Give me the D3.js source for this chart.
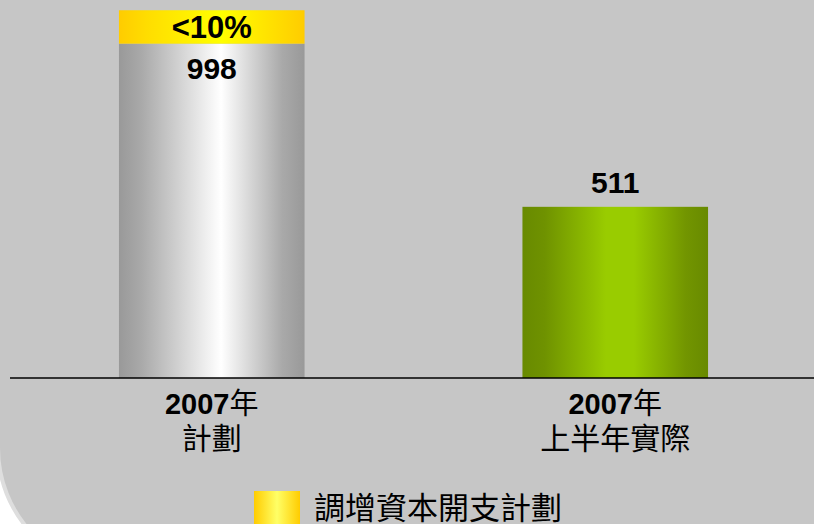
<!DOCTYPE html>
<html lang="zh-Hant">

<head>
  <meta charset="UTF-8">
  <script src="https://d3js.org/d3.v7.min.js"></script>
  <style>
    html, body {
      margin: 0;
      padding: 0;
      background: #ffffff;
      overflow: hidden;
    }

    svg {
      display: block;
    }

    .num {
      font-family: "Liberation Sans", Arial, sans-serif;
      font-weight: bold;
      fill: #000;
    }

    .cjk {
      font-family: "Liberation Sans", "Noto Sans CJK TC", sans-serif;
      fill: #000;
    }
  </style>
</head>

<body>
  <div id="chart"></div>

  <script>
    // data
    const yearLabels = ["2007", "2007"];
    const catLabels = ["計劃", "上半年實際"];
    const values = [998, 511];
    const extraShare = [0.1, 0];       // top-up on the plan bar
    const extraLabel = "<10%";
    const legendLabel = "調增資本開支計劃";

    const W = 814, H = 524;
    const baseY = 378;

    const svg = d3.select('#chart').append('svg')
      .attr('width', W).attr('height', H);

    const defs = svg.append('defs');
    function hGrad(id, stops) {
      const g = defs.append('linearGradient').attr('id', id)
        .attr('x1', '0%').attr('x2', '100%').attr('y1', '0%').attr('y2', '0%');
      stops.forEach(s => g.append('stop').attr('offset', s[0]).attr('stop-color', s[1]));
    }
    hGrad('gGray', [['0%', '#999999'], ['12%', '#a9a9a9'], ['55%', '#ffffff'], ['88%', '#a9a9a9'], ['100%', '#999999']]);
    hGrad('gGreen', [['0%', '#688a00'], ['12%', '#6f9200'], ['45%', '#99cc00'], ['60%', '#99cc00'], ['88%', '#729500'], ['100%', '#688a00']]);
    hGrad('gYellow', [['0%', '#ffcc00'], ['15%', '#ffdd00'], ['55%', '#ffff00'], ['85%', '#ffdd00'], ['100%', '#ffcc00']]);
    hGrad('gLegend', [['0%', '#ffcc00'], ['50%', '#ffff66'], ['100%', '#ffcc00']]);

    // background panel with the curled corner bottom left
    svg.append('rect').attr('width', W).attr('height', H).attr('fill', '#ffffff');
    svg.append('rect')
      .attr('x', -2).attr('y', -200).attr('width', W + 200).attr('height', H + 248)
      .attr('rx', 124).attr('ry', 124)
      .attr('fill', '#c6c6c6')
      .attr('stroke', '#dedede').attr('stroke-width', 4);

    const x = d3.scaleBand()
      .domain(d3.range(values.length))
      .range([10, 817])
      .paddingInner(0.54)
      .paddingOuter(0.27);

    const y = d3.scaleLinear()
      .domain([0, 1000])
      .range([baseY, 43]);

    const fills = ['url(#gGray)', 'url(#gGreen)'];

    // main bars
    svg.selectAll('rect.bar')
      .data(values)
      .enter().append('rect')
      .attr('class', 'bar')
      .attr('x', (d, i) => x(i))
      .attr('y', d => y(d))
      .attr('width', x.bandwidth())
      .attr('height', d => baseY - y(d))
      .attr('fill', (d, i) => fills[i]);

    // yellow top-up segment
    const extras = values.map((v, i) => ({ i, v, e: v * extraShare[i] })).filter(d => d.e > 0);
    svg.selectAll('rect.extra')
      .data(extras)
      .enter().append('rect')
      .attr('class', 'extra')
      .attr('x', d => x(d.i))
      .attr('y', d => y(d.v + d.e))
      .attr('width', x.bandwidth())
      .attr('height', d => y(d.v) - y(d.v + d.e))
      .attr('fill', 'url(#gYellow)');

    svg.selectAll('text.extraLbl')
      .data(extras)
      .enter().append('text')
      .attr('class', 'num')
      .attr('x', d => x(d.i) + x.bandwidth() / 2)
      .attr('y', d => (y(d.v) + y(d.v + d.e)) / 2)
      .attr('dy', '0.36em')
      .attr('text-anchor', 'middle')
      .style('font-size', '31px')
      .text(extraLabel);

    // value labels: inside for the plan bar, above for the actual
    svg.selectAll('text.val')
      .data(values)
      .enter().append('text')
      .attr('class', 'num')
      .attr('x', (d, i) => x(i) + x.bandwidth() / 2)
      .attr('y', (d, i) => extraShare[i] > 0 ? y(d) + 35 : y(d) - 14)
      .attr('text-anchor', 'middle')
      .style('font-size', '30px')
      .text(d => d);

    // baseline
    svg.append('line')
      .attr('x1', 10).attr('x2', W)
      .attr('y1', baseY).attr('y2', baseY)
      .attr('stroke', '#000').attr('stroke-width', 1.5);

    // category labels
    const cat = svg.selectAll('g.cat')
      .data(values)
      .enter().append('g')
      .attr('class', 'cat')
      .attr('transform', (d, i) => `translate(${x(i) + x.bandwidth() / 2},0)`);

    const line1 = cat.append('text')
      .attr('class', 'cjk')
      .attr('y', 414)
      .attr('text-anchor', 'middle')
      .style('font-size', '29px');
    line1.append('tspan').style('font-weight', 'bold').text((d, i) => yearLabels[i]);
    line1.append('tspan').style('font-family', '"Noto Sans CJK TC", sans-serif').text('年');

    cat.append('text')
      .attr('class', 'cjk')
      .attr('y', 449)
      .attr('text-anchor', 'middle')
      .style('font-family', '"Noto Sans CJK TC", sans-serif')
      .style('font-size', '30px')
      .text((d, i) => catLabels[i]);

    // legend
    svg.append('rect')
      .attr('x', 254).attr('y', 491)
      .attr('width', 46).attr('height', 46)
      .attr('fill', 'url(#gLegend)');
    svg.append('text')
      .attr('class', 'cjk')
      .attr('x', 314).attr('y', 519)
      .style('font-family', '"Noto Sans CJK TC", sans-serif')
      .style('font-size', '31px')
      .text(legendLabel);
  </script>

</body>

</html>
